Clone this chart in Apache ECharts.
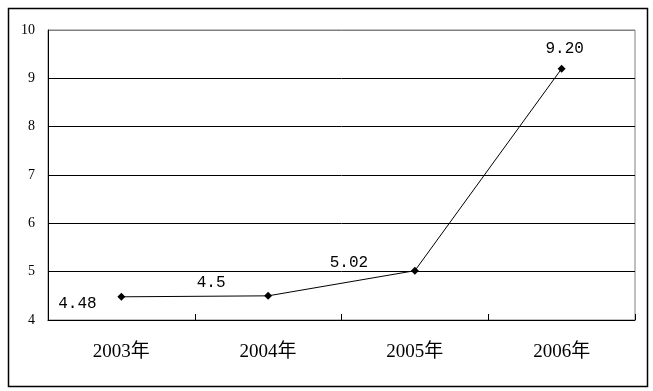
<!DOCTYPE html>
<html>
<head>
<meta charset="utf-8">
<script src="https://cdn.jsdelivr.net/npm/echarts@6/dist/echarts.min.js"></script>
<style>
html,body{margin:0;padding:0;background:#fff;}
#c{width:653px;height:391px;}
</style>
</head>
<body>
<div id="c"></div>
<script>
var categories = ['2003年', '2004年', '2005年', '2006年'];
var values = [4.48, 4.5, 5.02, 9.2];
var valueLabels = ['4.48', '4.5', '5.02', '9.20'];
var yMin = 4, yMax = 10, yInterval = 1;

var labelOffsets = [[-44, 7], [-57, -13], [-66, -8], [3, -20]];
var seriesData = values.map(function (v, i) {
  return {
    value: v,
    label: {
      show: true,
      position: 'inside',
      offset: labelOffsets[i],
      formatter: valueLabels[i]
    }
  };
});

var chart = echarts.init(document.getElementById('c'), null, {renderer: 'canvas'});
chart.setOption({
  animation: false,
  backgroundColor: '#fff',
  grid: {left: 48, top: 30, right: 18, bottom: 71, show: true, borderColor: '#808080', borderWidth: 1, backgroundColor: 'transparent'},
  graphic: [{
    type: 'rect', left: 6, top: 6, z: 100, silent: true,
    shape: {width: 639, height: 378},
    style: {fill: 'none', stroke: '#000', lineWidth: 1.5}
  }],
  xAxis: {
    type: 'category',
    data: categories,
    boundaryGap: true,
    axisLine: {show: true, lineStyle: {color: '#000', width: 1}},
    axisTick: {show: true, inside: true, length: 6, lineStyle: {color: '#000'}},
    axisLabel: {color: '#000', fontSize: 19, fontFamily: '"Liberation Serif", "Noto Sans CJK SC", serif', margin: 23},
    splitLine: {show: false}
  },
  yAxis: {
    type: 'value',
    min: yMin, max: yMax, interval: yInterval,
    axisLine: {show: true, lineStyle: {color: '#000', width: 1}},
    axisTick: {show: false},
    axisLabel: {color: '#000', fontSize: 14, fontFamily: '"Liberation Serif", serif', margin: 13},
    splitLine: {show: true, lineStyle: {color: ['#000', '#000', '#000', '#000', '#000', '#000', '#808080'], width: 1}}
  },
  series: [{
    type: 'line',
    data: seriesData,
    symbol: 'diamond',
    symbolSize: 8,
    itemStyle: {color: '#000'},
    lineStyle: {color: '#000', width: 1},
    label: {color: '#000', fontSize: 16, fontFamily: '"Liberation Mono", monospace'}
  }]
});
</script>
</body>
</html>
